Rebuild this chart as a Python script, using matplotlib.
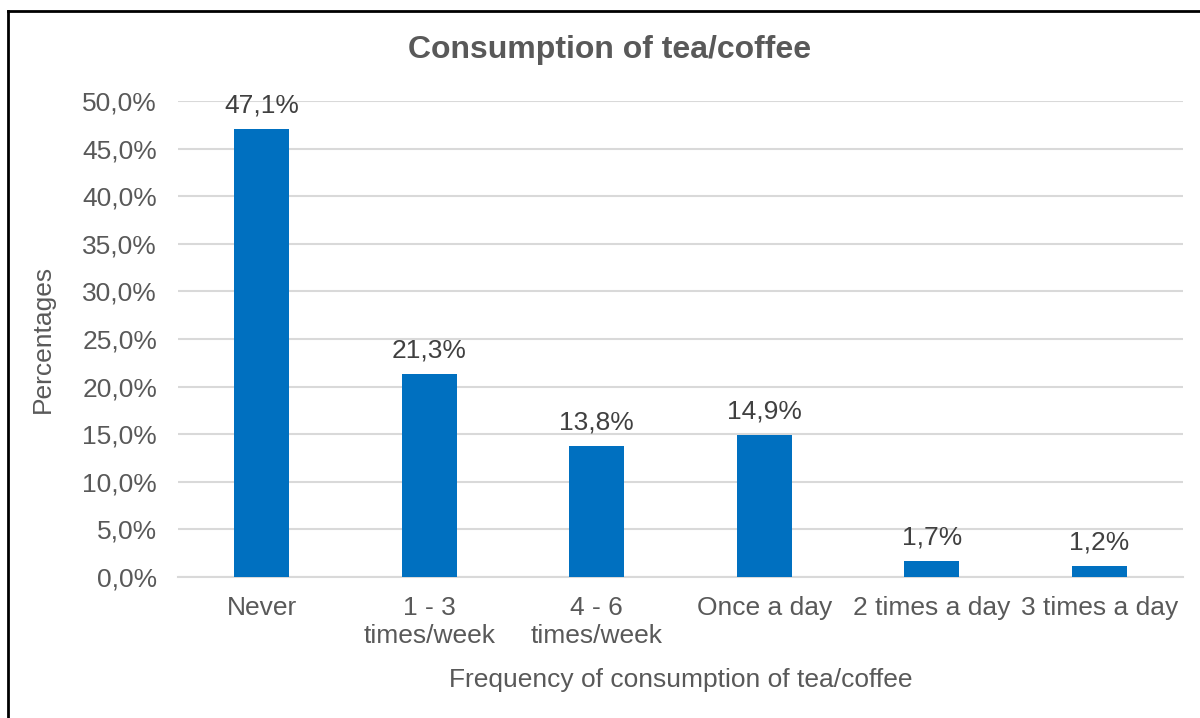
import matplotlib
matplotlib.use("Agg")
import matplotlib.pyplot as plt
from matplotlib.ticker import FuncFormatter
from matplotlib.lines import Line2D

categories = ["Never", "1 - 3\ntimes/week", "4 - 6\ntimes/week", "Once a day", "2 times a day", "3 times a day"]
values = [47.1, 21.3, 13.8, 14.9, 1.7, 1.2]
yticks = [0, 5, 10, 15, 20, 25, 30, 35, 40, 45, 50]

plt.rcParams['font.family'] = ['Liberation Sans', 'DejaVu Sans']
txt = "#595959"

fig = plt.figure(figsize=(12, 7.18), dpi=100)
ax = fig.add_axes([178/1200, 1-577/718, (1183-178)/1200, (577-101)/718])

x = list(range(len(categories)))
ax.bar(x, values, width=0.33, color="#0070C0", zorder=3)
for xi, v in zip(x, values):
    ax.text(xi, v + 1.2, f"{v:.1f}%".replace(".", ","), ha="center", va="bottom",
            fontsize=19, color="#404040")

ax.set_xlim(-0.5, len(categories) - 0.5)
ax.set_ylim(0, 50)
ax.set_yticks(yticks)
ax.yaxis.set_major_formatter(FuncFormatter(lambda v, p: f"{v:.1f}%".replace(".", ",")))
ax.set_xticks(x)
ax.set_xticklabels(categories, linespacing=1.2)
ax.tick_params(axis="both", length=0, labelsize=19, colors=txt)
ax.tick_params(axis="x", pad=14)
ax.tick_params(axis="y", pad=15)
ax.grid(axis="y", color="#D9D9D9", linewidth=1.5, zorder=0)
for s in ["top", "right", "left"]:
    ax.spines[s].set_visible(False)
ax.spines["bottom"].set_color("#D9D9D9")
ax.spines["bottom"].set_linewidth(1.5)

ax.set_ylabel("Percentages", fontsize=19, color=txt, labelpad=20)
ax.set_xlabel("Frequency of consumption of tea/coffee", fontsize=19, color=txt, labelpad=14)
fig.text(610/1200, 1-50/718, "Consumption of tea/coffee", ha="center", va="center",
         fontsize=23, fontweight="bold", color=txt)

# border (top and left visible)
fig.add_artist(Line2D([8/1200, 8/1200], [0, 1-11/718], transform=fig.transFigure, color="black", linewidth=2))
fig.add_artist(Line2D([8/1200, 1], [1-11/718, 1-11/718], transform=fig.transFigure, color="black", linewidth=2))

fig.savefig("out.png", dpi=100)
